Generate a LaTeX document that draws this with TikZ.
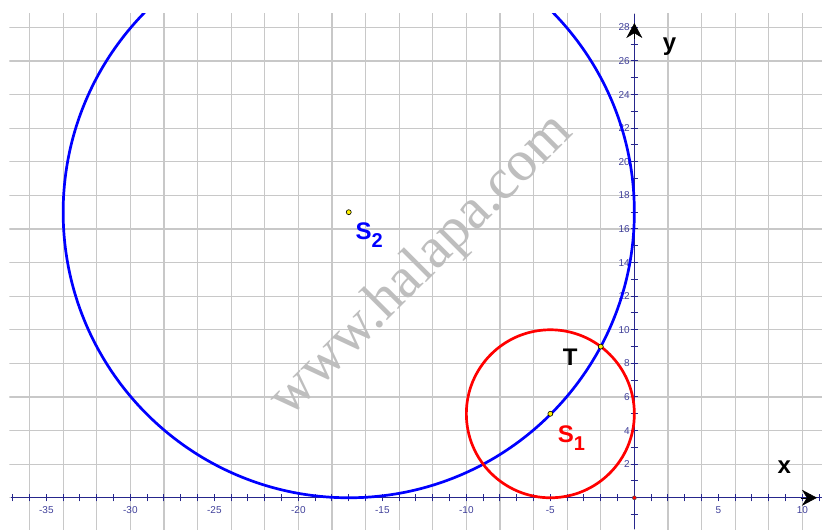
\documentclass[tikz,border=0pt]{standalone}
\usepackage{fontspec}
\setsansfont{Liberation Sans}
\newfontfamily\wmserif{Liberation Serif}
\usepackage{tikz}
\usetikzlibrary{arrows.meta}
\definecolor{gridgray}{HTML}{C8C8C8}
\definecolor{axisnavy}{HTML}{26268C}
\definecolor{ticknavy}{HTML}{40409A}
\definecolor{ringblue}{HTML}{0000FF}
\definecolor{ringred}{HTML}{FF0000}
\definecolor{markgray}{HTML}{BEBEBE}
\tikzset{gridline/.style={draw=gridgray,line width=1.2pt},axisline/.style={draw=axisnavy,line width=1.3pt},tickmark/.style={draw=axisnavy,line width=1pt},ticklbl/.style={font=\sffamily\fontsize{10}{11}\selectfont,text=ticknavy,inner sep=0pt},ring/.style={line width=2.7pt},ctr/.style={circle,draw=black,fill=yellow,line width=0.6pt,inner sep=0pt,minimum size=5pt},biglbl/.style={font=\sffamily\bfseries\fontsize{24}{24}\selectfont,inner sep=0pt,anchor=base west},axarrow/.style={-{Stealth[length=15pt,width=16pt]},draw=black,line width=0.5pt}}
\newcommand{\subidx}[2]{#1\raisebox{-8pt}{\fontsize{20}{20}\selectfont #2}}

\begin{document}
\begin{tikzpicture}[x=16.8pt,y=16.8pt]
\useasboundingbox (-37.76,-1.86) rectangle (11.17,29.63);
\begin{scope}
\clip (-37.2,-1.86) rectangle (11.17,28.8);
\foreach \gx in {-36,-34,...,10} \draw[gridline] (\gx,-2) -- (\gx,29);
\foreach \gy in {0,2,...,28} \draw[gridline] (-38,\gy) -- (12,\gy);
\end{scope}
\node[font=\wmserif\fontsize{58}{58}\selectfont,text=markgray,rotate=45,anchor=base,inner sep=0pt] (wm) at (-12.04,13.2) {www.halapa.com};
\draw[axisline] (-37.1,0) -- (11.17,0);
\draw[axisline] (0,-1.86) -- (0,28.8);
\foreach \tx in {-37,...,11} \draw[tickmark] (\tx,-0.22) -- (\tx,0.22);
\foreach \ty in {-1,...,28} \draw[tickmark] (-0.22,\ty) -- (0.22,\ty);
\foreach \lx in {-35,-30,...,-5,5,10} \node[ticklbl] (xt\lx) at (\lx,-0.75) {\lx};
\foreach \ly in {2,4,...,28} \node[ticklbl,anchor=east] (yt\ly) at (-0.26,\ly) {\ly};
\coordinate (O1) at (-5,5);
\coordinate (O2) at (-17,17);
\coordinate (T) at (-2,9);
\begin{scope}
\clip (-38,-2) rectangle (12,28.8);
\draw[ring,draw=ringblue] (O2) circle (17);
\draw[ring,draw=ringred] (O1) circle (5);
\end{scope}
\draw[axarrow] (9.9,0) -- (10.87,0);
\draw[axarrow] (0,27.3) -- (0,28.26);
\node[ctr] (c1) at (O1) {};
\node[ctr] (c2) at (O2) {};
\node[ctr] (ct) at (T) {};
\node[circle,fill=red,draw=black!70,line width=0.5pt,inner sep=0pt,minimum size=4pt] (org) at (0,0) {};
\node[biglbl,text=ringblue] (s2) at (-16.6,15.4) {\subidx{S}{2}};
\node[biglbl,text=ringred] (s1) at (-4.56,3.27) {\subidx{S}{1}};
\node[biglbl] (tl) at (-4.26,7.9) {T};
\node[biglbl] (xl) at (8.51,1.45) {x};
\node[biglbl] (yl) at (1.69,26.6) {y};
\end{tikzpicture}
\end{document}
